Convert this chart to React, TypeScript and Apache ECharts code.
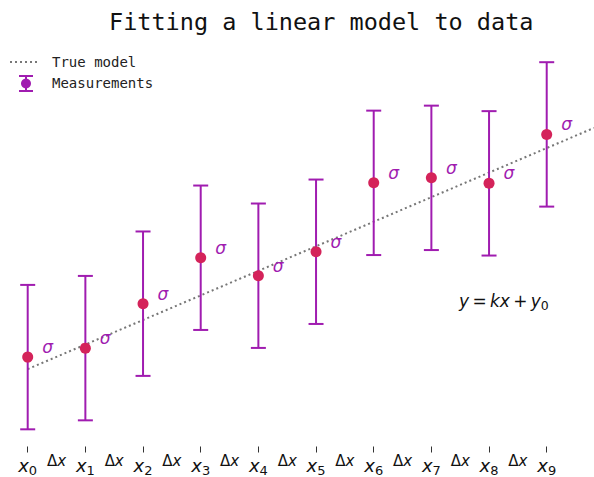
import React, { useEffect, useRef } from "react";
import * as echarts from "echarts";

const xIndex = [0, 1, 2, 3, 4, 5, 6, 7, 8, 9];
const measured = [10.25, 11.15, 15.6, 20.2, 18.4, 20.8, 27.7, 28.2, 27.65, 32.55];
const sigma = 7.23;
const modelLine = [
  [0, 9.05],
  [9.82, 33.2],
];
const deltaPositions = [0.5, 1.5, 2.5, 3.5, 4.5, 5.5, 6.5, 7.5, 8.5];

const PURPLE = "#a01cb0";
const DOT = "#d4235a";
const GREY = "#777777";
const MONO = "'DejaVu Sans Mono', 'Liberation Mono', monospace";
const SANS = "'DejaVu Sans', sans-serif";

export default function App() {
  const ref = useRef<HTMLDivElement>(null);
  useEffect(() => {
    if (!ref.current) return;
    const chart = echarts.init(ref.current, null, { renderer: "svg" });
    const option: any = {
      animation: false,
      backgroundColor: "#ffffff",
      grid: { left: 1.75, right: 0, top: 60, bottom: 30 },
      xAxis: [
        {
          type: "value",
          min: -0.45,
          max: 9.82,
          splitLine: { show: false },
          axisLine: { show: false },
          axisTick: {
            show: true,
            length: 6,
            customValues: xIndex,
            lineStyle: { color: "#333", width: 1 },
          },
          axisLabel: {
            customValues: xIndex,
            margin: 9,
            formatter: (v: number) => `{x|x}{s|${Math.round(v)}}`,
            rich: {
              x: { fontFamily: SANS, fontStyle: "italic", fontSize: 18, color: "#111", lineHeight: 20 },
              s: { fontFamily: SANS, fontSize: 13, color: "#111", padding: [10, 0, 0, 0], lineHeight: 20 },
            },
          },
        },
        {
          type: "value",
          min: -0.45,
          max: 9.82,
          position: "bottom",
          splitLine: { show: false },
          axisLine: { show: false },
          axisTick: { show: false },
          axisLabel: {
            customValues: deltaPositions,
            margin: 7,
            formatter: () => "{d|Δ}{x|x}",
            rich: {
              d: { fontFamily: SANS, fontSize: 15, color: "#111" },
              x: { fontFamily: SANS, fontSize: 15, fontStyle: "italic", color: "#111" },
            },
          },
        },
      ],
      yAxis: {
        type: "value",
        min: 1.3,
        max: 40,
        show: false,
        splitLine: { show: false },
      },
      series: [
        {
          type: "line",
          data: modelLine,
          symbol: "none",
          z: 1,
          lineStyle: { color: GREY, width: 2, type: [2, 3] },
        },
        {
          type: "custom",
          z: 2,
          data: measured.map((v, i) => [xIndex[i], v, sigma]),
          renderItem: (params: any, api: any) => {
            const x = api.value(0);
            const y = api.value(1);
            const s = api.value(2);
            const top = api.coord([x, y + s]);
            const bot = api.coord([x, y - s]);
            const half = 7.5;
            const st = { stroke: PURPLE, lineWidth: 2 };
            return {
              type: "group",
              children: [
                { type: "line", shape: { x1: top[0], y1: top[1], x2: bot[0], y2: bot[1] }, style: st },
                { type: "line", shape: { x1: top[0] - half, y1: top[1], x2: top[0] + half, y2: top[1] }, style: st },
                { type: "line", shape: { x1: bot[0] - half, y1: bot[1], x2: bot[0] + half, y2: bot[1] }, style: st },
              ],
            };
          },
        },
        {
          type: "scatter",
          z: 3,
          data: measured.map((v, i) => [xIndex[i], v]),
          symbolSize: 11,
          itemStyle: { color: DOT, opacity: 1 },
          label: {
            show: true,
            formatter: "σ",
            position: "right",
            distance: 9,
            offset: [0, -10],
            fontFamily: SANS,
            fontStyle: "italic",
            fontSize: 17,
            color: PURPLE,
          },
        },
      ],
      graphic: [
        {
          type: "text",
          left: 109,
          top: 10,
          style: {
            text: "Fitting a linear model to data",
            font: `normal 23.5px ${MONO}`,
            fill: "#111",
          },
        },
        {
          type: "line",
          shape: { x1: 10, y1: 62, x2: 38, y2: 62 },
          style: { stroke: GREY, lineWidth: 2, lineDash: [2, 3] },
        },
        {
          type: "text",
          x: 52,
          y: 62,
          style: { text: "True model", font: `14px ${MONO}`, fill: "#222", verticalAlign: "middle" },
        },
        {
          type: "line",
          shape: { x1: 26, y1: 76, x2: 26, y2: 91 },
          style: { stroke: PURPLE, lineWidth: 2 },
        },
        {
          type: "line",
          shape: { x1: 19, y1: 76, x2: 33, y2: 76 },
          style: { stroke: PURPLE, lineWidth: 2 },
        },
        {
          type: "line",
          shape: { x1: 19, y1: 91, x2: 33, y2: 91 },
          style: { stroke: PURPLE, lineWidth: 2 },
        },
        {
          type: "circle",
          shape: { cx: 26, cy: 83.5, r: 5 },
          style: { fill: PURPLE },
        },
        {
          type: "text",
          x: 52,
          y: 83,
          style: { text: "Measurements", font: `14px ${MONO}`, fill: "#222", verticalAlign: "middle" },
        },
        {
          type: "text",
          x: 459,
          y: 301,
          style: {
            text: "{i|y} {n|=} {i|kx} {n|+} {i|y}{s|0}",
            verticalAlign: "middle",
            rich: {
              i: { fontFamily: SANS, fontStyle: "italic", fontSize: 17, fill: "#111", color: "#111" },
              n: { fontFamily: SANS, fontSize: 17, fill: "#111", color: "#111" },
              s: { fontFamily: SANS, fontSize: 12.5, fill: "#111", color: "#111", padding: [8, 0, 0, 0] },
            },
          },
        },
      ],
    };
    chart.setOption(option);
    return () => chart.dispose();
  }, []);
  return <div ref={ref} style={{ width: 594, height: 477, position: "absolute", left: 0, top: 0 }} />;
}
